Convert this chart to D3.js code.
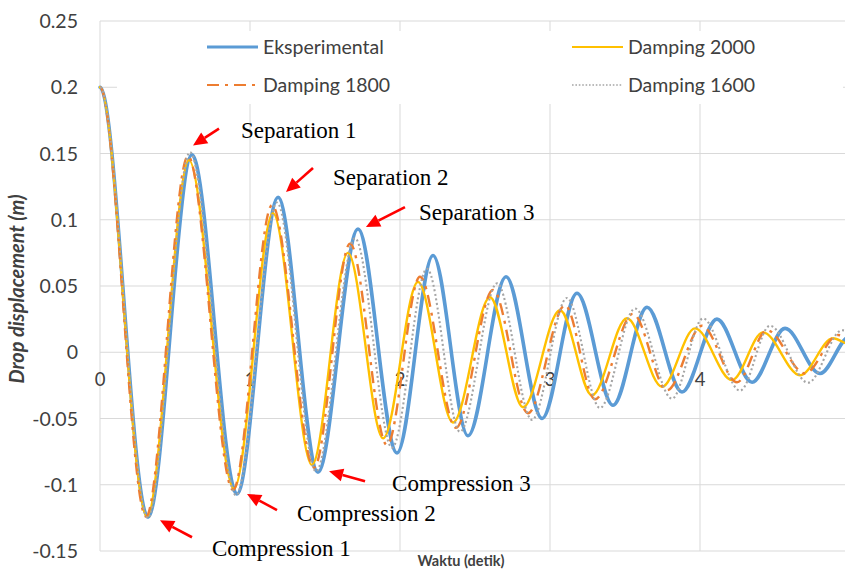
<!DOCTYPE html>
<html><head><meta charset="utf-8">
<script src="https://cdn.jsdelivr.net/npm/d3@7"></script>
<style>body{margin:0;background:#fff}svg{display:block}</style>
</head><body><svg id="c" width="845" height="578"></svg>
<script>
// ---------- data ----------
const yTicks = [-0.15, -0.1, -0.05, 0, 0.05, 0.1, 0.15, 0.2, 0.25];
const yTickLabels = ["-0.15", "-0.1", "-0.05", "0", "0.05", "0.1", "0.15", "0.2", "0.25"];
const xTicks = [0, 1, 2, 3, 4, 5];
const xLabelTicks = [0, 1, 2, 3, 4];
const xTickLabels = ["0", "1", "2", "3", "4"];
const seriesNames = ["Eksperimental", "Damping 2000", "Damping 1800", "Damping 1600"];

// Eksperimental (extrema)
const expT = [0, 0.32, 0.613, 0.913, 1.187, 1.453, 1.72, 1.98, 2.22, 2.453, 2.707, 2.947, 3.18, 3.42, 3.647, 3.88, 4.113, 4.347, 4.567, 4.8, 5.0];
const expV = [0.2, -0.1245, 0.149, -0.107, 0.117, -0.0905, 0.093, -0.076, 0.073, -0.063, 0.057, -0.050, 0.0445, -0.040, 0.034, -0.030, 0.025, -0.0226, 0.018, -0.016, 0.012];
// Damping 2000
const d2000T = [0, 0.313, 0.593, 0.893, 1.153, 1.413, 1.653, 1.887, 2.12, 2.353, 2.6, 2.82, 3.067, 3.28, 3.513, 3.747, 3.967, 4.213, 4.42, 4.667, 4.887, 5.0];
const d2000V = [0.2, -0.124, 0.145, -0.103, 0.105, -0.085, 0.075, -0.065, 0.053, -0.053, 0.0415, -0.0415, 0.0317, -0.0325, 0.0257, -0.026, 0.018, -0.021, 0.015, -0.0174, 0.0106, 0.006];
// Damping 1800
const d1800T = [0, 0.307, 0.587, 0.887, 1.147, 1.427, 1.667, 1.913, 2.133, 2.373, 2.62, 2.853, 3.1, 3.3, 3.553, 3.78, 4.013, 4.247, 4.447, 4.7, 4.92, 5.0];
const d1800V = [0.2, -0.124, 0.148, -0.104, 0.111, -0.087, 0.082, -0.070, 0.057, -0.057, 0.047, -0.046, 0.0355, -0.0355, 0.029, -0.0287, 0.020, -0.0226, 0.0166, -0.016, 0.013, 0.011];
// Damping 1600
const d1600T = [0, 0.32, 0.6, 0.907, 1.18, 1.44, 1.7, 1.947, 2.18, 2.4, 2.647, 2.88, 3.113, 3.333, 3.567, 3.813, 4.02, 4.267, 4.467, 4.72, 4.947, 5.0];
const d1600V = [0.2, -0.125, 0.151, -0.108, 0.113, -0.090, 0.086, -0.072, 0.063, -0.060, 0.052, -0.051, 0.041, -0.042, 0.033, -0.035, 0.0255, -0.029, 0.020, -0.023, 0.0166, 0.016];

// annotation labels and the data points they refer to
const annoLabels = ["Separation 1", "Separation 2", "Separation 3", "Compression 1", "Compression 2", "Compression 3"];
const annoTipT = [0.62, 1.24, 1.773, 0.40, 0.98, 1.527];
const annoTipV = [0.156, 0.121, 0.0945, -0.1268, -0.107, -0.0898];

// ---------- layout / style ----------
const svg = d3.select("#c");
const x = d3.scaleLinear().domain([0, 5]).range([100, 850]);
const y = d3.scaleLinear().domain([-0.15, 0.25]).range([551, 21]);
const grid = "#d9d9d9";
const txt = "#404040";
const font = "Lato, 'Open Sans', sans-serif";

// gridlines
svg.append("g").selectAll("line").data(yTicks).join("line")
  .attr("x1", x(0)).attr("x2", x(5)).attr("y1", d => y(d)).attr("y2", d => y(d))
  .attr("stroke", grid).attr("stroke-width", 1);
svg.append("g").selectAll("line").data(xTicks).join("line")
  .attr("x1", d => x(d)).attr("x2", d => x(d)).attr("y1", y(0.25)).attr("y2", y(-0.15))
  .attr("stroke", grid).attr("stroke-width", 1);

// y tick labels
svg.append("g").selectAll("text").data(yTicks).join("text")
  .attr("x", 78).attr("y", d => y(d)).attr("dy", "0.36em")
  .attr("text-anchor", "end").attr("font-family", font).attr("font-size", 19.5)
  .attr("fill", txt).text((d, i) => yTickLabels[i]);
// x tick labels
svg.append("g").selectAll("text").data(xLabelTicks).join("text")
  .attr("x", d => x(d)).attr("y", 386)
  .attr("text-anchor", "middle").attr("font-family", font).attr("font-size", 18.5)
  .attr("fill", txt).text((d, i) => xTickLabels[i]);

// axis titles
svg.append("text").attr("x", 461).attr("y", 566).attr("text-anchor", "middle")
  .attr("font-family", font).attr("font-weight", "bold").attr("font-size", 14.5)
  .attr("fill", txt).text("Waktu (detik)");
svg.append("text").attr("transform", "translate(24,289) rotate(-90)").attr("text-anchor", "middle")
  .attr("font-family", font).attr("font-weight", "bold").attr("font-style", "italic").attr("font-size", 20)
  .attr("fill", txt).text("Drop displacement (m)");

// legend box (white fill, hides gridlines)
svg.append("rect").attr("x", 117).attr("y", 31).attr("width", 726).attr("height", 73).attr("fill", "#fff");

// smooth curve with horizontal tangents at each read extremum
function flatCurve(context) {
  let pts = [];
  return {
    areaStart() {}, areaEnd() {},
    lineStart() { pts = []; },
    point(px, py) { pts.push([px, py]); },
    lineEnd() {
      if (!pts.length) return;
      context.moveTo(pts[0][0], pts[0][1]);
      for (let i = 1; i < pts.length; i++) {
        const [x0, y0] = pts[i - 1], [x1, y1] = pts[i];
        const h = (x1 - x0) / 3;
        context.bezierCurveTo(x0 + h, y0, x1 - h, y1, x1, y1);
      }
    }
  };
}

// series
const styles = [
  {color: "#5b9bd5", width: 3.6, dash: null, cap: "round"},
  {color: "#ffc000", width: 2.4, dash: null, cap: "round"},
  {color: "#ed7d31", width: 2.4, dash: "12,6,3,6", cap: "butt"},
  {color: "#a5a5a5", width: 2.1, dash: "2,2.6", cap: "butt"}
];
const tArrs = [expT, d2000T, d1800T, d1600T];
const vArrs = [expV, d2000V, d1800V, d1600V];
const line = d3.line().x(d => x(d[0])).y(d => y(d[1])).curve(flatCurve);
const gS = svg.append("g");
tArrs.forEach((ts, i) => {
  const pts = ts.map((t, j) => [t, vArrs[i][j]]);
  gS.append("path").attr("d", line(pts)).attr("fill", "none")
    .attr("stroke", styles[i].color).attr("stroke-width", styles[i].width)
    .attr("stroke-linecap", styles[i].cap).attr("stroke-linejoin", "round")
    .attr("stroke-dasharray", styles[i].dash);
});

// legend entries
const legPos = [[207, 47], [572, 47], [207, 85], [572, 85]];
seriesNames.forEach((n, i) => {
  const [lx, ly] = legPos[i];
  svg.append("line").attr("x1", lx).attr("x2", lx + 51).attr("y1", ly).attr("y2", ly)
    .attr("stroke", styles[i].color).attr("stroke-width", i === 3 ? 1.6 : styles[i].width * 0.85)
    .attr("stroke-dasharray", i === 3 ? "1.6,1.8" : styles[i].dash);
  svg.append("text").attr("x", lx + 56).attr("y", ly).attr("dy", "0.36em")
    .attr("font-family", font).attr("font-size", 19.5).attr("fill", txt).text(n);
});

// annotations: arrow tail / text offsets in pixels relative to tip
const tailOff = [[26, -17], [27, -24], [39, -20], [32, 17], [30, 16], [36, 10]];
const textOff = [[48, -8], [47, -7], [53, -7], [52, 36], [50, 27], [63, 20]];
const gA = svg.append("g");
annoLabels.forEach((lab, i) => {
  const tx = x(annoTipT[i]), ty = y(annoTipV[i]);
  const ax = tx + tailOff[i][0], ay = ty + tailOff[i][1];
  const ang = Math.atan2(ty - ay, tx - ax);
  const hl = 14, hw = 6.5;
  const bx = tx - hl * Math.cos(ang), by = ty - hl * Math.sin(ang);
  gA.append("line").attr("x1", ax).attr("y1", ay).attr("x2", bx).attr("y2", by)
    .attr("stroke", "#ff0000").attr("stroke-width", 2.6);
  const px = -Math.sin(ang) * hw, py = Math.cos(ang) * hw;
  gA.append("path").attr("d", `M${tx},${ty}L${bx + px},${by + py}L${bx - px},${by - py}Z`).attr("fill", "#ff0000");
  gA.append("text").attr("x", tx + textOff[i][0]).attr("y", ty + textOff[i][1])
    .attr("font-family", "'Liberation Serif', 'Times New Roman', serif").attr("font-size", 23)
    .attr("fill", "#000").text(lab);
});
</script></body></html>
